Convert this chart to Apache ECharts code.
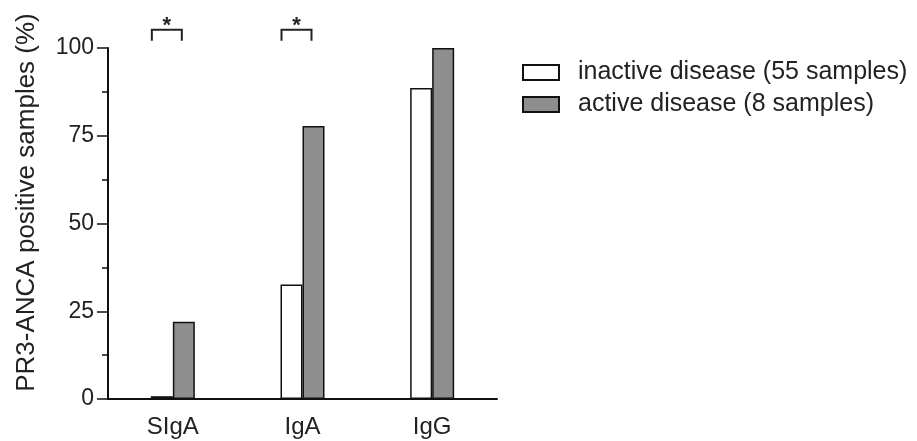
<!DOCTYPE html>
<html>
<head>
<meta charset="utf-8">
<script src="https://cdn.jsdelivr.net/npm/echarts@6/dist/echarts.min.js"></script>
<style>
  html, body { margin: 0; padding: 0; background: #fff; }
  #chart { width: 917px; height: 441px; }
</style>
</head>
<body>
<div id="chart"></div>
<script>
// 抗体类型
var aCategory = ['SIgA', 'IgA', 'IgG'];
// 阳性样本比例 (%)
var aInactive = [0.8, 32.6, 88.6];
var aActive = [22, 77.8, 100];
var aYTicks = [0, 25, 50, 75, 100];
// 显著性标记 (类别序号, 高度)
var aSignif = [[0, 105.2], [1, 105.2]];

var cFont = 'Liberation Sans, Arial, sans-serif';
var cText = '#222';

var oChart = echarts.init(document.getElementById('chart'), null, { renderer: 'canvas' });

var oOption = {
    backgroundColor: '#fff',
    animation: false,
    grid: {
        left: 108,
        right: 420,
        top: 48,
        bottom: 42
    },
    legend: {
        orient: 'vertical',
        left: 517,
        top: 55,
        icon: 'rect',
        itemWidth: 36,
        itemHeight: 15,
        itemGap: 7,
        data: ['inactive disease (55 samples)', 'active disease (8 samples)'],
        textStyle: {
            fontFamily: cFont, fontSize: 25, color: cText,
            padding: [0, 0, 0, 14]
        }
    },
    xAxis: {
        type: 'category',
        data: aCategory,
        axisLine: { lineStyle: { color: '#111', width: 2 } },
        axisTick: { alignWithLabel: true, length: 10, lineStyle: { color: '#111', width: 1.5 } },
        axisLabel: { fontFamily: cFont, fontSize: 24, color: cText, margin: 16 }
    },
    yAxis: {
        type: 'value',
        min: aYTicks[0],
        max: aYTicks[aYTicks.length - 1],
        interval: 25,
        name: 'PR3-ANCA positive samples (%)',
        nameLocation: 'middle',
        nameRotate: 90,
        nameGap: 68,
        nameTextStyle: {
            fontFamily: cFont, fontSize: 26, color: cText,
            padding: [0, 0, 0, 42]
        },
        axisLine: { show: true, lineStyle: { color: '#111', width: 2 } },
        axisTick: { show: true, length: 11, lineStyle: { color: '#111', width: 1.5 } },
        minorTick: { show: true, splitNumber: 2, length: 6, lineStyle: { color: '#111', width: 1.5 } },
        splitLine: { show: false },
        axisLabel: { fontFamily: cFont, fontSize: 23, color: cText, margin: 14 }
    },
    series: [
        {
            name: 'inactive disease (55 samples)',
            type: 'bar',
            data: aInactive,
            barWidth: 22,
            barGap: '0%',
            itemStyle: { color: '#fff', borderColor: '#111', borderWidth: 1.5 }
        },
        {
            name: 'active disease (8 samples)',
            type: 'bar',
            data: aActive,
            barWidth: 22,
            barGap: '0%',
            itemStyle: { color: '#8e8e8e', borderColor: '#111', borderWidth: 1.5 }
        },
        {
            // 星号括号
            type: 'custom',
            data: aSignif,
            clip: false,
            silent: true,
            renderItem: function (params, api) {
                var p = api.coord([api.value(0), api.value(1)]);
                var x0 = p[0] - 21, x1 = p[0] + 9, y = p[1];
                return {
                    type: 'group',
                    children: [
                        {
                            type: 'polyline',
                            shape: { points: [[x0, y + 11], [x0, y], [x1, y], [x1, y + 11]] },
                            style: { fill: null, stroke: '#222', lineWidth: 2 }
                        },
                        {
                            type: 'text',
                            style: {
                                x: (x0 + x1) / 2, y: y + 7,
                                text: '*', align: 'center', verticalAlign: 'bottom',
                                fontFamily: cFont, fontSize: 22, fontWeight: 'bold', fill: '#222'
                            }
                        }
                    ]
                };
            }
        }
    ]
};

oChart.setOption(oOption, true);
</script>
</body>
</html>
